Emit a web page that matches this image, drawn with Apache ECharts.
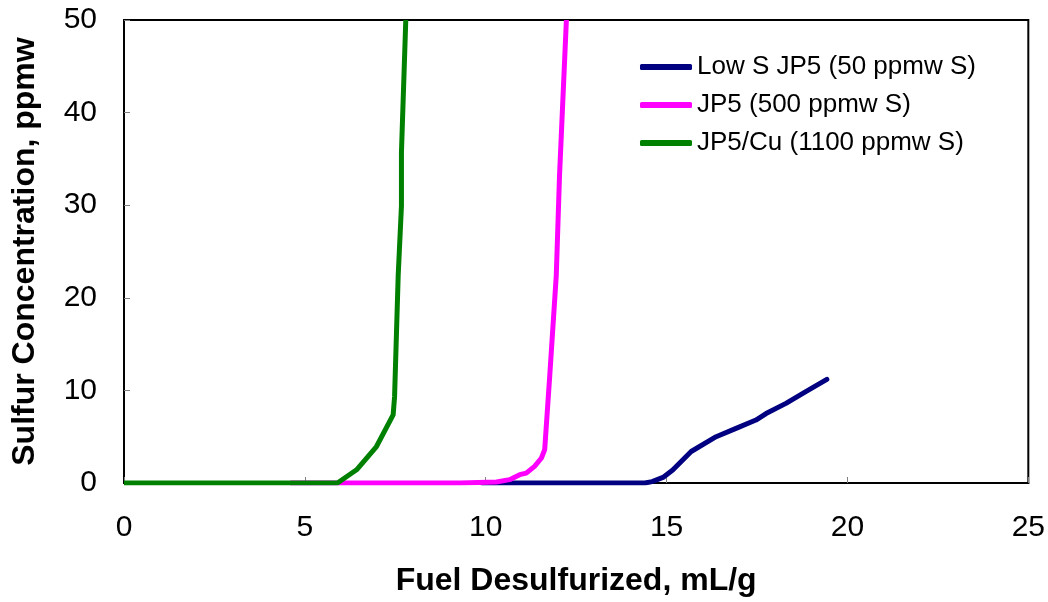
<!DOCTYPE html>
<html>
<head>
<meta charset="utf-8">
<script src="https://cdn.jsdelivr.net/npm/echarts@6/dist/echarts.min.js"></script>
<style>html,body{margin:0;padding:0;background:#fff}#c{width:1048px;height:602px}</style>
</head>
<body>
<div id="c"></div>
<script>
var seriesNames = ['Low S JP5 (50 ppmw S)', 'JP5 (500 ppmw S)', 'JP5/Cu (1100 ppmw S)'];
var xTicks = [0, 5, 10, 15, 20, 25];
var yTicks = [0, 10, 20, 30, 40, 50];

var lowSX = [9.9, 12, 14.4, 14.6, 14.9, 15.17, 15.68, 16.37, 16.92, 17.47, 17.75, 18.3, 18.86, 19.43];
var lowSY = [0, 0, 0, 0.15, 0.6, 1.4, 3.4, 5.0, 5.9, 6.8, 7.5, 8.6, 9.9, 11.2];

var jp5X = [4.6, 7, 9.3, 10.3, 10.66, 10.94, 11.12, 11.35, 11.54, 11.63, 11.77, 11.95, 11.98, 12.04, 12.23];
var jp5Y = [0, 0, 0, 0.1, 0.36, 0.9, 1.07, 1.8, 2.7, 3.6, 11.6, 22.4, 26, 33.2, 50];

var cuX = [0, 3, 5.9, 6.43, 6.98, 7.44, 7.48, 7.58, 7.67, 7.67, 7.79];
var cuY = [0, 0, 0, 1.43, 3.94, 7.35, 9.3, 22.4, 29.9, 35.7, 50];

function pairs(xs, ys) { return xs.map(function (x, i) { return [x, ys[i]]; }); }

var colors = ['#000080', '#FF00FF', '#008000'];
var chart = echarts.init(document.getElementById('c'), null, {renderer: 'canvas'});
var font = 'Liberation Sans, Arial, sans-serif';
chart.setOption({
  animation: false,
  grid: {left: 124, right: 19, top: 20, bottom: 117, show: true, borderColor: '#000', borderWidth: 2, backgroundColor: 'transparent'},
  legend: {
    orient: 'vertical', left: 635, top: 49, itemGap: 12, itemWidth: 52, itemHeight: 6,
    icon: 'roundRect',
    data: seriesNames,
    textStyle: {fontFamily: font, fontSize: 26, color: '#000'}
  },
  xAxis: {
    type: 'value', min: xTicks[0], max: xTicks[xTicks.length - 1], interval: 5,
    name: 'Fuel Desulfurized, mL/g', nameLocation: 'middle', nameGap: 82,
    nameTextStyle: {fontFamily: font, fontSize: 32, fontWeight: 'bold', color: '#000'},
    axisLine: {show: true, onZero: false, lineStyle: {color: '#000', width: 2}},
    axisTick: {show: true, inside: true, length: 6, lineStyle: {color: '#808080', width: 1}},
    axisLabel: {fontFamily: font, fontSize: 30, color: '#000', margin: 30},
    splitLine: {show: false}
  },
  yAxis: {
    type: 'value', min: yTicks[0], max: yTicks[yTicks.length - 1], interval: 10,
    name: 'Sulfur Concentration, ppmw', nameLocation: 'middle', nameGap: 83,
    nameTextStyle: {fontFamily: font, fontSize: 32, fontWeight: 'bold', color: '#000'},
    axisLine: {show: true, lineStyle: {color: '#000', width: 2}},
    axisTick: {show: true, inside: true, length: 6, lineStyle: {color: '#808080', width: 1}},
    axisLabel: {fontFamily: font, fontSize: 30, color: '#000', margin: 27},
    splitLine: {show: false}
  },
  series: [
    {name: seriesNames[0], type: 'line', data: pairs(lowSX, lowSY), symbol: 'none', lineStyle: {color: colors[0], width: 5, cap: 'round'}, itemStyle: {color: colors[0]}, clip: true, z: 3},
    {name: seriesNames[1], type: 'line', data: pairs(jp5X, jp5Y), symbol: 'none', lineStyle: {color: colors[1], width: 5}, itemStyle: {color: colors[1]}, clip: true, z: 4},
    {name: seriesNames[2], type: 'line', data: pairs(cuX, cuY), symbol: 'none', lineStyle: {color: colors[2], width: 5}, itemStyle: {color: colors[2]}, clip: true, z: 5}
  ]
});
</script>
</body>
</html>
